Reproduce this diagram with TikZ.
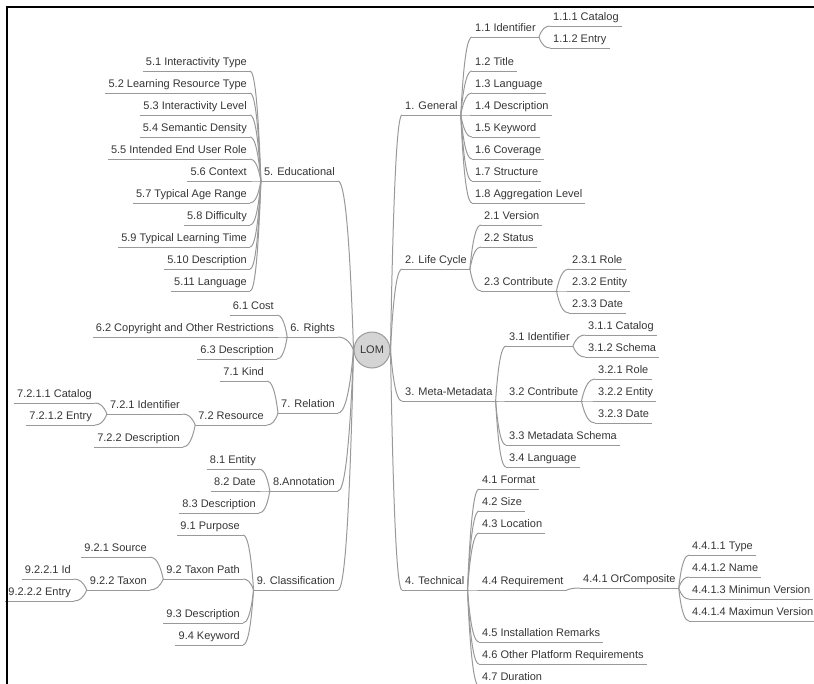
\documentclass[tikz,border=0pt]{standalone}
\usepackage{fontspec}
\setmainfont{Liberation Sans}
\usetikzlibrary{calc}
\definecolor{txt}{HTML}{353535}
\definecolor{ln}{HTML}{999999}
\definecolor{lomfill}{HTML}{D4D4D4}
\definecolor{lomdraw}{HTML}{9A9A9A}
\newcommand\lnk[2]{\draw[link] (#1) .. controls ($(#1)!0.75!($(#1|-#2)!0.35!(#2)$)$) and ($(#2)!0.6!($(#1|-#2)!0.35!(#2)$)$) .. (#2);}
\begin{document}
\begin{tikzpicture}[x=1pt,y=-1pt,
  lbl/.style={font=\fontsize{11}{13}\selectfont, text=txt, inner xsep=3pt, inner ysep=0pt, text height=8pt, text depth=5pt},
  R/.style={lbl, anchor=south west},
  L/.style={lbl, anchor=south east},
  link/.style={draw=ln, line width=1pt},
  bordr/.style={draw=black, line width=2.2pt}]
\useasboundingbox (0,0) rectangle (814,683);
\clip (0,0) rectangle (814,683);

% centre
\node[circle, draw=lomdraw, fill=lomfill, line width=1pt, minimum size=36pt, inner sep=0pt,
      font=\fontsize{11}{13}\selectfont, text=txt] (lom) at (372,350) {LOM};

% ---------- right side ----------
\node[R] (gen) at (402,115) {1. General};
\node[R] (n11) at (472,37) {1.1 Identifier};
\node[R] (n111) at (550,26) {1.1.1 Catalog};
\node[R] (n112) at (550,48) {1.1.2 Entry};
\node[R] (n12) at (472,71) {1.2 Title};
\node[R] (n13) at (472,93) {1.3 Language};
\node[R] (n14) at (472,115) {1.4 Description};
\node[R] (n15) at (472,137) {1.5 Keyword};
\node[R] (n16) at (472,159) {1.6 Coverage};
\node[R] (n17) at (472,181) {1.7 Structure};
\node[R] (n18) at (472,203) {1.8 Aggregation Level};

\node[R] (lc) at (402,269) {2. Life Cycle};
\node[R] (n21) at (481,225) {2.1 Version};
\node[R] (n22) at (481,247) {2.2 Status};
\node[R] (n23) at (481,291) {2.3 Contribute};
\node[R] (n231) at (569,269) {2.3.1 Role};
\node[R] (n232) at (569,291) {2.3.2 Entity};
\node[R] (n233) at (569,313) {2.3.3 Date};

\node[R] (mm) at (402,401) {3. Meta-Metadata};
\node[R] (n31) at (506,346) {3.1 Identifier};
\node[R] (n311) at (585,335) {3.1.1 Catalog};
\node[R] (n312) at (585,357) {3.1.2 Schema};
\node[R] (n32) at (506,401) {3.2 Contribute};
\node[R] (n321) at (595,379) {3.2.1 Role};
\node[R] (n322) at (595,401) {3.2.2 Entity};
\node[R] (n323) at (595,423) {3.2.3 Date};
\node[R] (n33) at (506,445) {3.3 Metadata Schema};
\node[R] (n34) at (506,467) {3.4 Language};

\node[R] (tech) at (402,590) {4. Technical};
\node[R] (n41) at (479,489) {4.1 Format};
\node[R] (n42) at (479,511) {4.2 Size};
\node[R] (n43) at (479,533) {4.3 Location};
\node[R] (n44) at (479,590) {4.4 Requirement};
\node[R] (n441) at (580,588) {4.4.1 OrComposite};
\node[R] (n4411) at (689,555) {4.4.1.1 Type};
\node[R] (n4412) at (689,577) {4.4.1.2 Name};
\node[R] (n4413) at (689,599) {4.4.1.3 Minimun Version};
\node[R] (n4414) at (689,621) {4.4.1.4 Maximun Version};
\node[R] (n45) at (479,642) {4.5 Installation Remarks};
\node[R] (n46) at (479,664) {4.6 Other Platform Requirements};
\node[R] (n47) at (479,686) {4.7 Duration};

% ---------- left side ----------
\node[L] (edu) at (338,181) {5. Educational};
\node[L] (n51) at (250,71) {5.1 Interactivity Type};
\node[L] (n52) at (250,93) {5.2 Learning Resource Type};
\node[L] (n53) at (250,115) {5.3 Interactivity Level};
\node[L] (n54) at (250,137) {5.4 Semantic Density};
\node[L] (n55) at (250,159) {5.5 Intended End User Role};
\node[L] (n56) at (250,181) {5.6 Context};
\node[L] (n57) at (250,203) {5.7 Typical Age Range};
\node[L] (n58) at (250,225) {5.8 Difficulty};
\node[L] (n59) at (250,247) {5.9 Typical Learning Time};
\node[L] (n510) at (250,269) {5.10 Description};
\node[L] (n511) at (250,291) {5.11 Language};

\node[L] (rig) at (338,337) {6. Rights};
\node[L] (n61) at (277,315) {6.1 Cost};
\node[L] (n62) at (277,337) {6.2 Copyright and Other Restrictions};
\node[L] (n63) at (277,359) {6.3 Description};

\node[L] (rel) at (338,413) {7. Relation};
\node[L] (n71) at (267,381) {7.1 Kind};
\node[L] (n72) at (267,425) {7.2 Resource};
\node[L] (n721) at (183,414) {7.2.1 Identifier};
\node[L] (n7211) at (95,403) {7.2.1.1 Catalog};
\node[L] (n7212) at (95,425) {7.2.1.2 Entry};
\node[L] (n722) at (183,447) {7.2.2 Description};

\node[L] (ann) at (338,491) {8.Annotation};
\node[L] (n81) at (259,469) {8.1 Entity};
\node[L] (n82) at (259,491) {8.2 Date};
\node[L] (n83) at (259,513) {8.3 Description};

\node[L] (cls) at (338,590) {9. Classification};
\node[L] (n91) at (243,535) {9.1 Purpose};
\node[L] (n92) at (243,579) {9.2 Taxon Path};
\node[L] (n921) at (150,557) {9.2.1 Source};
\node[L] (n922) at (150,590) {9.2.2 Taxon};
\node[L] (n9221) at (74,579) {9.2.2.1 Id};
\node[L] (n9222) at (74,601) {9.2.2.2 Entry};
\node[L] (n93) at (243,623) {9.3 Description};
\node[L] (n94) at (243,645) {9.4 Keyword};

% ---------- underlines ----------
\foreach \n in {gen,n11,n111,n112,n12,n13,n14,n15,n16,n17,n18,
  lc,n21,n22,n23,n231,n232,n233,
  mm,n31,n311,n312,n32,n321,n322,n323,n33,n34,
  tech,n41,n42,n43,n44,n441,n4411,n4412,n4413,n4414,n45,n46,n47,
  edu,n51,n52,n53,n54,n55,n56,n57,n58,n59,n510,n511,
  rig,n61,n62,n63,
  rel,n71,n72,n721,n7211,n7212,n722,
  ann,n81,n82,n83,
  cls,n91,n92,n921,n922,n9221,n9222,n93,n94}
  {\draw[link] (\n.south west) -- (\n.south east);}

% ---------- connectors, right side ----------
\foreach \c in {gen,lc,mm,tech} {\lnk{lom.east}{\c.south west}}
\foreach \p/\c in {gen/n11,gen/n12,gen/n13,gen/n14,gen/n15,gen/n16,gen/n17,gen/n18,
  n11/n111,n11/n112,
  lc/n21,lc/n22,lc/n23,n23/n231,n23/n232,n23/n233,
  mm/n31,mm/n32,mm/n33,mm/n34,n31/n311,n31/n312,n32/n321,n32/n322,n32/n323,
  tech/n41,tech/n42,tech/n43,tech/n44,tech/n45,tech/n46,tech/n47,
  n44/n441,n441/n4411,n441/n4412,n441/n4413,n441/n4414}
  {\lnk{\p.south east}{\c.south west}}

% ---------- connectors, left side ----------
\foreach \c in {edu,rig,rel,ann,cls} {\lnk{lom.west}{\c.south east}}
\foreach \p/\c in {edu/n51,edu/n52,edu/n53,edu/n54,edu/n55,edu/n56,edu/n57,edu/n58,edu/n59,edu/n510,edu/n511,
  rig/n61,rig/n62,rig/n63,
  rel/n71,rel/n72,n72/n721,n72/n722,n721/n7211,n721/n7212,
  ann/n81,ann/n82,ann/n83,
  cls/n91,cls/n92,cls/n93,cls/n94,n92/n921,n92/n922,n922/n9221,n922/n9222}
  {\lnk{\p.south west}{\c.south east}}

% ---------- frame ----------
\draw[bordr] (7,684) -- (7,7) -- (815,7);
\end{tikzpicture}
\end{document}
